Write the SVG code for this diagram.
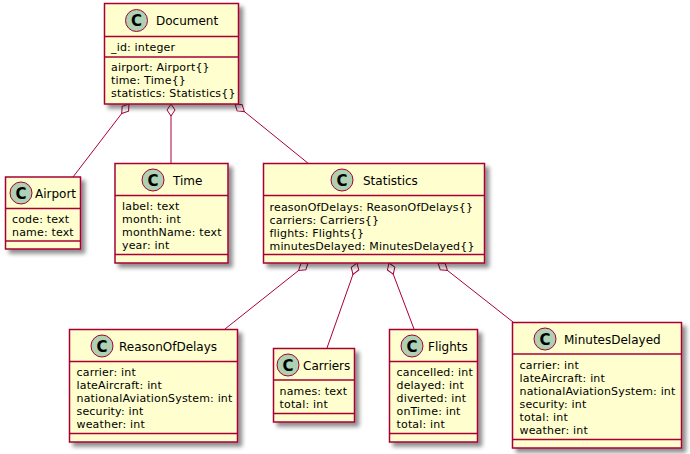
<svg xmlns="http://www.w3.org/2000/svg" width="690" height="454" viewBox="0 0 690 454">
<style>
.box{fill:#FEFECE;stroke:#A80036;stroke-width:1.5;filter:url(#sh)}
.sep{stroke:#A80036;stroke-width:1.5}
.ci{fill:#ADD1B2;stroke:#A80036;stroke-width:1}
.cl{font-family:"DejaVu Sans",sans-serif;font-size:15px;font-weight:bold;fill:#000;text-anchor:middle}
.t{font-family:"DejaVu Sans",sans-serif;font-size:12px;fill:#000}
.f{font-family:"DejaVu Sans",sans-serif;font-size:11px;letter-spacing:0.17px;fill:#000}
.ln{stroke:#A80036;stroke-width:1;fill:none;marker-start:url(#dia)}
</style>
<defs>
<filter id="sh" x="-10%" y="-10%" width="130%" height="130%">
<feGaussianBlur in="SourceAlpha" stdDeviation="2"/>
<feOffset dx="4" dy="4" result="b"/>
<feComponentTransfer><feFuncA type="linear" slope="0.45"/></feComponentTransfer>
<feMerge><feMergeNode/><feMergeNode in="SourceGraphic"/></feMerge>
</filter>
<marker id="dia" markerUnits="userSpaceOnUse" markerWidth="16" markerHeight="12" viewBox="-1 -6 15 12" refX="0" refY="0" orient="auto">
<path d="M0,0 L6,-4 L12,0 L6,4 Z" fill="#FFFFFF" stroke="#A80036" stroke-width="1"/>
</marker>
</defs>

<g id="connectors">
<path class="ln" d="M129,104 L73,177"/>
<path class="ln" d="M171,104 L171,163"/>
<path class="ln" d="M235,104 L309,164"/>
<path class="ln" d="M308,263 L225,329"/>
<path class="ln" d="M357,263 L327,348"/>
<path class="ln" d="M389,263 L414,329"/>
<path class="ln" d="M438,263 L513,322"/>
</g>

<g id="Document">
<rect class="box" x="104.5" y="3.5" width="134" height="100.5"/>
<line class="sep" x1="104.5" y1="36.5" x2="238.5" y2="36.5"/>
<line class="sep" x1="104.5" y1="57" x2="238.5" y2="57"/>
<circle class="ci" cx="136.5" cy="20.5" r="11"/>
<text class="cl" x="136.5" y="26">C</text>
<text class="t" x="156" y="25">Document</text>
<text class="f" x="111" y="51">_id: integer</text>
<text class="f" x="111" y="71">airport: Airport{}</text>
<text class="f" x="111" y="84">time: Time{}</text>
<text class="f" x="111" y="97">statistics: Statistics{}</text>
</g>

<g id="Airport">
<rect class="box" x="5.5" y="177" width="75" height="72"/>
<line class="sep" x1="5.5" y1="208.5" x2="80.5" y2="208.5"/>
<line class="sep" x1="5.5" y1="241" x2="80.5" y2="241"/>
<circle class="ci" cx="21" cy="193" r="11"/>
<text class="cl" x="21" y="198.5">C</text>
<text class="t" x="35" y="197.5">Airport</text>
<text class="f" x="12" y="222.5">code: text</text>
<text class="f" x="12" y="235.5">name: text</text>
</g>

<g id="Time">
<rect class="box" x="115" y="163.5" width="113" height="99.5"/>
<line class="sep" x1="115" y1="195.5" x2="228" y2="195.5"/>
<line class="sep" x1="115" y1="254.5" x2="228" y2="254.5"/>
<circle class="ci" cx="153" cy="180" r="11"/>
<text class="cl" x="153" y="185.5">C</text>
<text class="t" x="173" y="184.5">Time</text>
<text class="f" x="122" y="209.5">label: text</text>
<text class="f" x="122" y="222.5">month: int</text>
<text class="f" x="122" y="235.5">monthName: text</text>
<text class="f" x="122" y="248.5">year: int</text>
</g>

<g id="Statistics">
<rect class="box" x="263.5" y="163.5" width="221" height="99.5"/>
<line class="sep" x1="263.5" y1="195.5" x2="484.5" y2="195.5"/>
<line class="sep" x1="263.5" y1="254.5" x2="484.5" y2="254.5"/>
<circle class="ci" cx="342" cy="180" r="11"/>
<text class="cl" x="342" y="185.5">C</text>
<text class="t" x="363" y="184.5">Statistics</text>
<text class="f" x="269.5" y="210.5">reasonOfDelays: ReasonOfDelays{}</text>
<text class="f" x="269.5" y="223.5">carriers: Carriers{}</text>
<text class="f" x="269.5" y="236.5">flights: Flights{}</text>
<text class="f" x="269.5" y="249.5">minutesDelayed: MinutesDelayed{}</text>
</g>

<g id="ReasonOfDelays">
<rect class="box" x="69.5" y="329.5" width="168" height="112.5"/>
<line class="sep" x1="69.5" y1="361.5" x2="237.5" y2="361.5"/>
<line class="sep" x1="69.5" y1="433.5" x2="237.5" y2="433.5"/>
<circle class="ci" cx="102" cy="346" r="11"/>
<text class="cl" x="102" y="351.5">C</text>
<text class="t" x="119" y="350.5">ReasonOfDelays</text>
<text class="f" x="76.5" y="375.5">carrier: int</text>
<text class="f" x="76.5" y="388.5">lateAircraft: int</text>
<text class="f" x="76.5" y="401.5">nationalAviationSystem: int</text>
<text class="f" x="76.5" y="414.5">security: int</text>
<text class="f" x="76.5" y="427.5">weather: int</text>
</g>

<g id="Carriers">
<rect class="box" x="273.5" y="348.5" width="81" height="73.5"/>
<line class="sep" x1="273.5" y1="380" x2="354.5" y2="380"/>
<line class="sep" x1="273.5" y1="413.5" x2="354.5" y2="413.5"/>
<circle class="ci" cx="288" cy="365" r="11"/>
<text class="cl" x="288" y="370.5">C</text>
<text class="t" x="303" y="369.5">Carriers</text>
<text class="f" x="279.5" y="394.5">names: text</text>
<text class="f" x="279.5" y="407.5">total: int</text>
</g>

<g id="Flights">
<rect class="box" x="389.5" y="329.5" width="88" height="112.5"/>
<line class="sep" x1="389.5" y1="361.5" x2="477.5" y2="361.5"/>
<line class="sep" x1="389.5" y1="433.5" x2="477.5" y2="433.5"/>
<circle class="ci" cx="412" cy="346" r="11"/>
<text class="cl" x="412" y="351.5">C</text>
<text class="t" x="428" y="350.5">Flights</text>
<text class="f" x="396.5" y="375.5">cancelled: int</text>
<text class="f" x="396.5" y="388.5">delayed: int</text>
<text class="f" x="396.5" y="401.5">diverted: int</text>
<text class="f" x="396.5" y="414.5">onTime: int</text>
<text class="f" x="396.5" y="427.5">total: int</text>
</g>

<g id="MinutesDelayed">
<rect class="box" x="512.5" y="322.5" width="169" height="125.5"/>
<line class="sep" x1="512.5" y1="354" x2="681.5" y2="354"/>
<line class="sep" x1="512.5" y1="439.5" x2="681.5" y2="439.5"/>
<circle class="ci" cx="545" cy="339" r="11"/>
<text class="cl" x="545" y="344.5">C</text>
<text class="t" x="564" y="343.5">MinutesDelayed</text>
<text class="f" x="519.5" y="368.5">carrier: int</text>
<text class="f" x="519.5" y="381.5">lateAircraft: int</text>
<text class="f" x="519.5" y="394.5">nationalAviationSystem: int</text>
<text class="f" x="519.5" y="407.5">security: int</text>
<text class="f" x="519.5" y="420.5">total: int</text>
<text class="f" x="519.5" y="433.5">weather: int</text>
</g>
</svg>
